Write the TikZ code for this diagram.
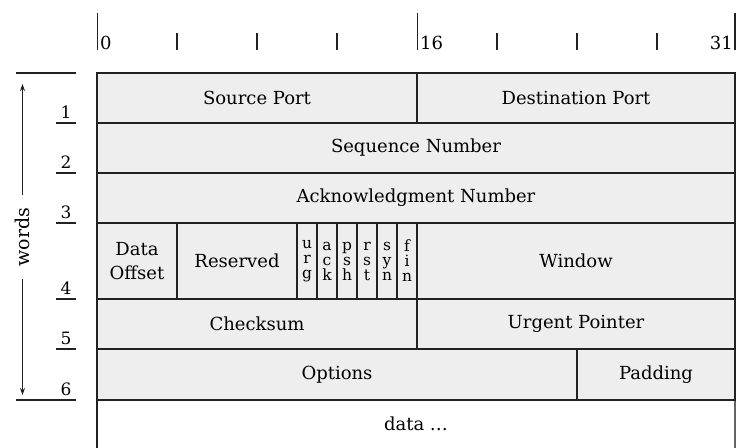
\documentclass[tikz,border=0pt]{standalone}
\usepackage{fontspec}
\setmainfont{DejaVu Serif}
\usetikzlibrary{arrows.meta}
\definecolor{cellgray}{HTML}{EEEEEE}
\definecolor{ink}{HTML}{222222}
\begin{document}
\begin{tikzpicture}[x=1pt,y=-1pt,
  field/.style={draw=ink, fill=cellgray, line width=1.5pt, inner sep=0pt,
    outer sep=0pt, anchor=north west, align=center,
    font=\fontsize{18}{24}\selectfont},
  flagbox/.style={field, minimum width=20pt, minimum height=76pt,
    font=\fontsize{15.5}{15}\selectfont},
  rowlabel/.style={anchor=south, inner sep=0pt, font=\fontsize{17}{17}\selectfont},
  bitlabel/.style={anchor=south west, inner sep=0pt, font=\fontsize{18}{18}\selectfont},
  tick/.style={draw=ink, line width=1.3pt},
  rule/.style={draw=ink, line width=1.3pt},
  wordarrow/.style={draw=ink, line width=1.3pt, -{Stealth[length=7pt,width=5pt]}}]
\useasboundingbox (0,0) rectangle (736,447);

% bit ruler
\foreach \bx in {97.5,417.5,735}
  \draw[tick] (\bx,13) -- (\bx,50);
\foreach \bx in {177,257,337,497,577,657}
  \draw[tick] (\bx,33) -- (\bx,50);
\node[bitlabel] (b0) at (100,50) {0};
\node[bitlabel] (b16) at (420,50) {16};
\node[bitlabel, anchor=south east] (b31) at (733,50) {31};

% data row: only side borders, open at the bottom
\node[draw=none, fill=none, inner sep=0pt, outer sep=0pt, anchor=north west,
  minimum width=638pt, minimum height=60pt] (data) at (97,400) {};
\node[font=\fontsize{18}{24}\selectfont, inner sep=0pt] (datatext) at (416,424) {data \dots};
\draw[rule, line width=1.5pt] (data.north west) -- (data.south west);
\draw[draw=ink!70, line width=1.1pt] (data.north east) -- (data.south east);

% header fields
\node[field, minimum width=320pt, minimum height=50pt] (src) at (97,73) {Source Port};
\node[field, minimum width=318pt, minimum height=50pt] (dst) at (417,73) {Destination Port};
\node[field, minimum width=638pt, minimum height=50pt] (seq) at (97,123) {Sequence Number};
\node[field, minimum width=638pt, minimum height=50pt] (ack) at (97,173) {Acknowledgment Number};
\node[field, minimum width=80pt, minimum height=76pt] (off) at (97,223) {Data\\Offset};
\node[field, minimum width=120pt, minimum height=76pt] (res) at (177,223) {Reserved};
\node[flagbox] (urg) at (297,223) {u\\r\\g};
\node[flagbox] (ackf) at (317,223) {a\\c\\k};
\node[flagbox] (psh) at (337,223) {p\\s\\h};
\node[flagbox] (rst) at (357,223) {r\\s\\t};
\node[flagbox] (syn) at (377,223) {s\\y\\n};
\node[flagbox] (fin) at (397,223) {f\\i\\n};
\node[field, minimum width=318pt, minimum height=76pt] (win) at (417,223) {Window};
\node[field, minimum width=320pt, minimum height=50pt] (chk) at (97,299) {Checksum};
\node[field, minimum width=318pt, minimum height=50pt] (urp) at (417,299) {Urgent Pointer};
\node[field, minimum width=480pt, minimum height=51pt] (opt) at (97,349) {Options};
\node[field, minimum width=158pt, minimum height=51pt] (pad) at (577,349) {Padding};

% word scale on the left
\draw[rule] (16,73) -- (76,73);
\draw[rule] (16,400) -- (76,400);
\foreach \wy in {123,173,223,299,349}
  \draw[rule] (56,\wy) -- (76,\wy);
\node[rowlabel] (w1) at (66,119) {1};
\node[rowlabel] (w2) at (66,169) {2};
\node[rowlabel] (w3) at (66,219) {3};
\node[rowlabel] (w4) at (66,295) {4};
\node[rowlabel] (w5) at (66,345) {5};
\node[rowlabel] (w6) at (66,396) {6};
\node[rotate=90, inner xsep=12pt, inner ysep=0pt,
  font=\fontsize{19}{19}\selectfont] (words) at (22.5,237) {words};
\coordinate (wtop) at (22.5,84);
\coordinate (wbot) at (22.5,395);
\draw[wordarrow] (words.east) -- (wtop);
\draw[wordarrow] (words.west) -- (wbot);
\end{tikzpicture}
\end{document}
